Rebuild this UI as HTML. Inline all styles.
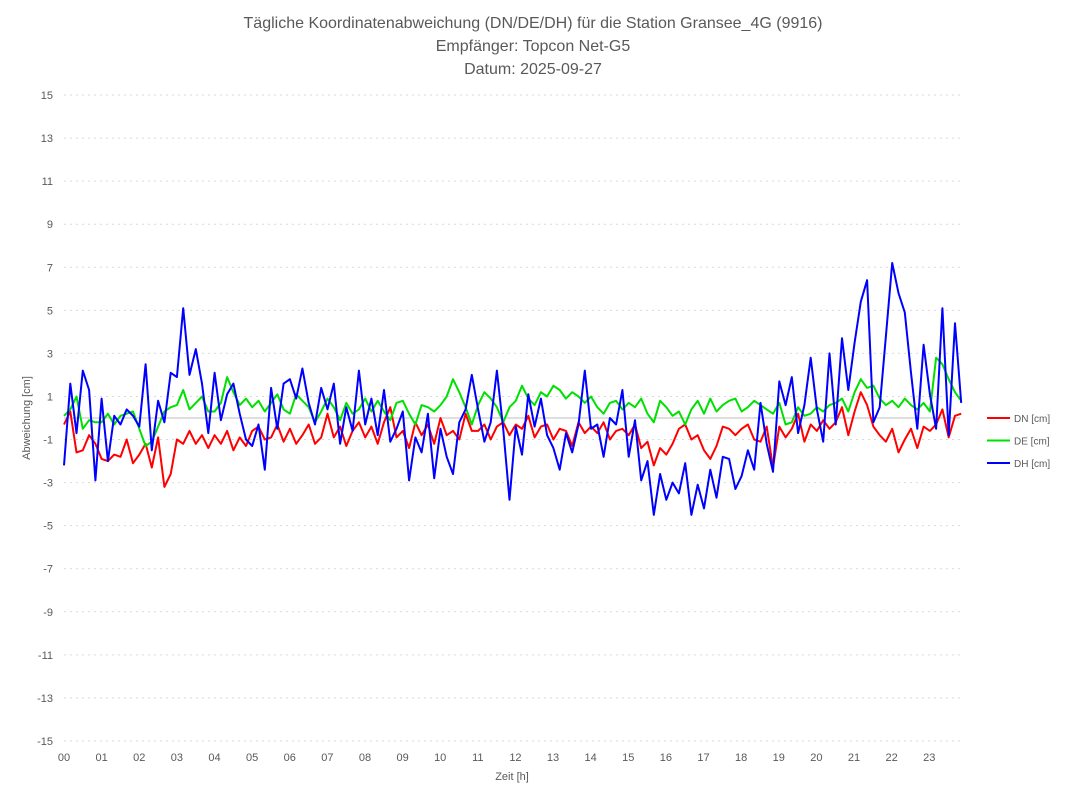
<!DOCTYPE html>
<html><head><meta charset="utf-8"><style>
body{margin:0;background:#fff;font-family:"Liberation Sans",sans-serif}
</style></head><body>
<svg id="c" width="1068" height="801" xmlns="http://www.w3.org/2000/svg" font-family="Liberation Sans, sans-serif">
<rect width="1068" height="801" fill="#fff"/>
<g fill="#595959" font-size="16" text-anchor="middle">
<text x="533" y="28">Tägliche Koordinatenabweichung (DN/DE/DH) für die Station Gransee_4G (9916)</text>
<text x="533" y="51">Empfänger: Topcon Net-G5</text>
<text x="533" y="74">Datum: 2025-09-27</text>
</g>
<g id="grid"></g><g id="axes"></g><g id="series"></g>
<text x="512" y="780" font-size="11" fill="#595959" text-anchor="middle">Zeit [h]</text>
<text transform="translate(30,418) rotate(-90)" font-size="11" fill="#595959" text-anchor="middle">Abweichung [cm]</text>
<g id="legend"></g>
</svg>
<script>
const yTicks=[15,13,11,9,7,5,3,1,-1,-3,-5,-7,-9,-11,-13,-15];
const xTicks=["00","01","02","03","04","05","06","07","08","09","10","11","12","13","14","15","16","17","18","19","20","21","22","23"];
const seriesNames=["DN [cm]","DE [cm]","DH [cm]"];
const DN=[-0.3,0.3,-1.6,-1.5,-0.8,-1.2,-1.9,-2,-1.7,-1.8,-1,-2.1,-1.7,-1.2,-2.3,-0.9,-3.2,-2.6,-1,-1.2,-0.6,-1.2,-0.8,-1.4,-0.8,-1.2,-0.6,-1.5,-0.9,-1.3,-0.6,-0.4,-1,-0.9,-0.3,-1.1,-0.5,-1.2,-0.8,-0.3,-1.2,-0.9,0.2,-0.9,-0.4,-1.3,-0.6,-0.2,-0.9,-0.4,-1.2,-0.2,0.5,-0.9,-0.6,-1.4,-0.2,-0.8,-0.3,-1.2,0,-0.8,-0.6,-1,0.2,-0.6,-0.6,-0.3,-1,-0.4,-0.2,-0.8,-0.3,-0.5,0.1,-0.9,-0.4,-0.3,-1,-0.5,-0.6,-1.3,-0.2,-0.7,-0.4,-0.7,-0.2,-1,-0.6,-0.5,-0.8,-0.3,-1.4,-1.1,-2.2,-1.4,-1.7,-1.2,-0.5,-0.3,-1,-0.8,-1.5,-1.9,-1.3,-0.4,-0.5,-0.8,-0.5,-0.3,-1,-1.1,-0.4,-2.3,-0.4,-0.9,-0.5,0.2,-1.1,-0.3,-0.6,-0.1,-0.5,-0.2,0.5,-0.8,0.3,1.2,0.6,-0.4,-0.8,-1.1,-0.5,-1.6,-1,-0.5,-1.4,-0.4,-0.6,-0.3,0.4,-0.9,0.1,0.2];
const DE=[0.1,0.4,1,-0.5,-0.1,-0.2,-0.2,0.2,-0.3,0.1,0.2,0.3,-0.5,-1.3,-1.1,-0.4,0.3,0.5,0.6,1.3,0.4,0.7,1,0.3,0.3,0.7,1.9,1.2,0.6,0.9,0.5,0.8,0.3,0.7,1.1,0.4,0.2,1.1,0.8,0.5,-0.2,0.3,0.9,0.5,-0.1,0.7,0.2,0.4,0.9,0.3,0.8,0.3,-0.1,0.7,0.8,0.2,-0.3,0.6,0.5,0.3,0.6,1,1.8,1.2,0.5,-0.3,0.6,1.2,0.9,0.5,-0.2,0.5,0.8,1.5,0.9,0.6,1.2,1,1.5,1.3,0.9,1.2,1,0.7,1,0.5,0.2,0.7,0.8,0.4,0.7,0.5,0.9,0.2,-0.2,0.8,0.5,0.1,0.3,-0.3,0.4,0.8,0.2,0.9,0.3,0.6,0.8,0.9,0.3,0.5,0.8,0.6,0.4,0.2,0.7,-0.3,-0.2,0.5,0.1,0.2,0.5,0.3,0.6,0.7,0.9,0.3,1.2,1.8,1.4,1.5,0.9,0.6,0.8,0.5,0.9,0.6,0.4,0.7,0.3,2.8,2.5,1.8,1.2,0.8];
const DH=[-2.2,1.6,-0.7,2.2,1.3,-2.9,0.9,-2,0.1,-0.3,0.4,0.1,-0.4,2.5,-1.5,0.8,-0.2,2.1,1.9,5.1,2,3.2,1.6,-0.7,2.1,-0.1,1.1,1.6,0.2,-1,-1.3,-0.3,-2.4,1.4,-0.5,1.6,1.8,0.9,2.3,0.7,-0.3,1.4,0.4,1.6,-1.2,0.5,-0.6,2.2,-0.3,0.9,-0.8,1.3,-1.1,-0.5,0.3,-2.9,-0.9,-1.6,0.2,-2.8,-0.5,-1.8,-2.6,-0.2,0.4,2,0.4,-1.1,-0.2,2.2,-0.5,-3.8,-0.4,-1.7,1.1,-0.4,0.9,-0.8,-1.4,-2.4,-0.7,-1.6,-0.3,2.2,-0.5,-0.3,-1.8,0,-0.3,1.3,-1.8,-0.1,-2.9,-2,-4.5,-2.6,-3.8,-3,-3.5,-2.1,-4.5,-3.1,-4.2,-2.4,-3.7,-1.8,-1.9,-3.3,-2.7,-1.5,-2.4,0.7,-1.2,-2.5,1.7,0.6,1.9,-0.7,0.6,2.8,0.4,-1.1,3,-0.3,3.7,1.3,3.5,5.4,6.4,-0.2,0.5,3.8,7.2,5.8,4.9,2.1,-0.5,3.4,1.1,-0.5,5.1,-0.8,4.4,0.7];
const colors=["#ff0000","#00e000","#0000ff"];
const NS="http://www.w3.org/2000/svg";
const X0=64,HW=37.62,Y0=418,PU=21.53;
const xs=h=>X0+h*HW, ys=v=>Y0-v*PU;
function mk(t,a,p){const e=document.createElementNS(NS,t);for(const k in a)e.setAttribute(k,a[k]);p.appendChild(e);return e;}
const grid=document.getElementById('grid'),axes=document.getElementById('axes'),ser=document.getElementById('series'),leg=document.getElementById('legend');
yTicks.forEach(v=>{
 const l=mk('line',{x1:X0,x2:960,y1:ys(v),y2:ys(v),stroke:'#d9d9d9','stroke-dasharray':'2,4'},grid);
 
 
 const t=mk('text',{x:53,y:ys(v)+4,'font-size':11,fill:'#595959','text-anchor':'end'},axes);t.textContent=v;
 
 
});
const z=mk('line',{x1:X0,x2:960,y1:ys(0),y2:ys(0),stroke:'#bfbfbf'},grid);


xTicks.forEach((s,i)=>{
 const t=mk('text',{x:xs(i),y:761,'font-size':11,fill:'#595959','text-anchor':'middle'},axes);t.textContent=s;
 
 
});
[DN,DE,DH].forEach((d,si)=>{
 const step=23.85/(d.length-1);
 const pts=d.map((v,i)=>xs(i*step).toFixed(1)+','+ys(v).toFixed(1)).join(' ');
 const p=mk('polyline',{points:pts,fill:'none',stroke:colors[si],'stroke-width':2,'stroke-linejoin':'round'},ser);
 
 
 const y=418+si*22.5;
 const g=mk('g',{},leg);
 
 
 mk('line',{x1:987,x2:1010,y1:y,y2:y,stroke:colors[si],'stroke-width':2},g);
 const t=mk('text',{x:1014,y:y+4,'font-size':10,fill:'#595959'},g);t.textContent=seriesNames[si];
});
</script>
</body></html>
